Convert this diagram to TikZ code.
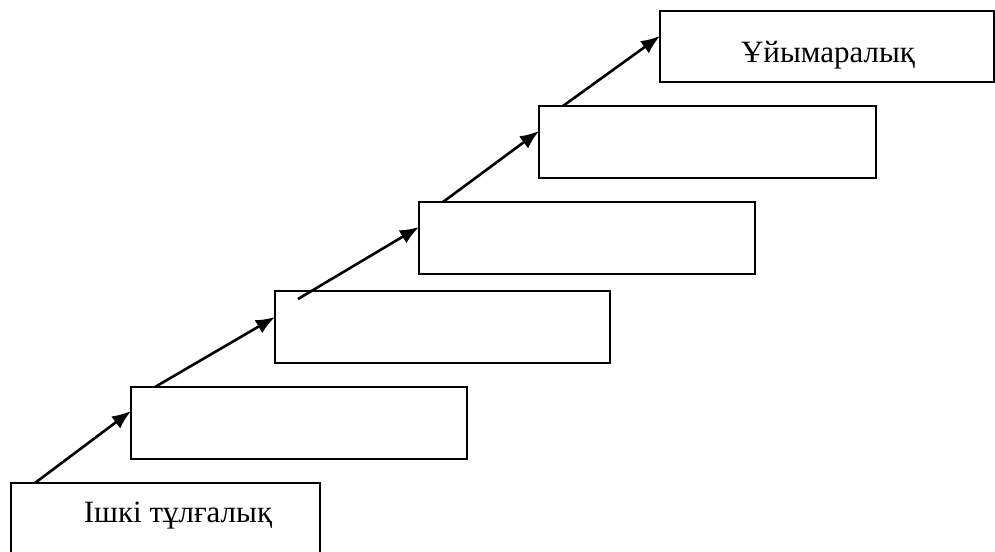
\documentclass[tikz,border=0pt]{standalone}
\usepackage{fontspec}
\setmainfont{Liberation Serif}
\usetikzlibrary{arrows.meta}
\begin{document}
\begin{tikzpicture}[x=1pt,y=1pt,
  box/.style={draw=black,line width=2.2pt,inner sep=0pt,outer sep=0pt,anchor=north west,minimum height=72pt},
  lbl/.style={anchor=base,inner sep=0pt,font=\fontsize{31}{34}\selectfont},
  conn/.style={line width=2.6pt,-{Latex[length=19pt,width=15pt]}}]
\clip (0,0) rectangle (995,551);
\fill[white] (0,0) rectangle (995,551);
\node[box,minimum width=309pt,minimum height=130pt] (b1) at (11,68) {};
\node[box,minimum width=336pt] (b2) at (131,164) {};
\node[box,minimum width=335pt] (b3) at (275,260) {};
\node[box,minimum width=336pt] (b4) at (419,349) {};
\node[box,minimum width=337pt] (b5) at (539,445) {};
\node[box,minimum width=334pt,minimum height=71pt] (b6) at (660,540) {};
\node[lbl] (t1) at (178,28) {Ішкі тұлғалық};
\node[lbl] (t6) at (828,488) {Ұйымаралық};
\coordinate (s1) at (35,68);
\coordinate (e1) at (b2.west |- 0,140);
\coordinate (s2) at (155,164);
\coordinate (e2) at (b3.west |- 0,234);
\coordinate (s3) at (298,252);
\coordinate (e3) at (b4.west |- 0,324);
\coordinate (s4) at (443,349);
\coordinate (e4) at (b5.west |- 0,420);
\coordinate (s5) at (563,445);
\coordinate (e5) at (b6.west |- 0,515);
\draw[conn] (s1) -- (e1);
\draw[conn] (s2) -- (e2);
\draw[conn] (s3) -- (e3);
\draw[conn] (s4) -- (e4);
\draw[conn] (s5) -- (e5);
\end{tikzpicture}
\end{document}
